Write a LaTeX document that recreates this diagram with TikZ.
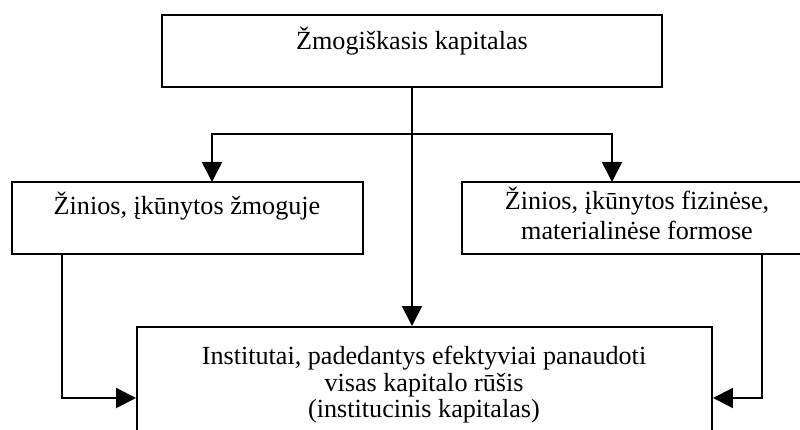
\documentclass[tikz,border=0pt]{standalone}
\usepackage{fontspec}
\setmainfont{Liberation Serif}
\usetikzlibrary{arrows.meta}

\tikzset{
  box/.style={draw, line width=1.4pt, inner sep=0pt},
  lbl/.style={align=center, inner sep=0pt, anchor=base},
  arr/.style={line width=1.4pt, -{Triangle[length=0.5cm, width=0.5cm]}},
}

\begin{document}
\begin{tikzpicture}[font=\fontsize{18.6}{22}\selectfont]
        \useasboundingbox (0,0) rectangle (20,10.75);
        \clip (0,0) rectangle (20,10.75);

        \node[box, minimum width=12.5cm, minimum height=1.8cm] (cap) at (10.3,9.475) {};
        \node[box, minimum width=8.775cm, minimum height=1.8cm] (tacit) at (4.6875,5.3) {};
        \node[box, minimum width=8.75cm, minimum height=1.8cm] (embod) at (15.925,5.3) {};
        \node[box, minimum width=14.375cm, minimum height=2.775cm] (inst) at (10.6125,1.1875) {};

        \node[lbl] (captxt) at (10.3,9.5) {Žmogiškasis kapitalas};
        \node[lbl] (tacittxt) at (4.675,5.375) {Žinios, įkūnytos žmoguje};
        \node[lbl, font=\fontsize{18.6}{22}\selectfont] (embodtxt) at (15.925,4.75)
            {Žinios, įkūnytos fizinėse,\\ materialinėse formose};
        \node[lbl, font=\fontsize{18.6}{19.2}\selectfont] (insttxt) at (10.6,0.3)
            {Institutai, padedantys efektyviai panaudoti\\ visas kapitalo rūšis\\ (institucinis kapitalas)};

        \coordinate (split) at (10.3,7.4);
        \coordinate (tacitin) at (5.3,6.2);
        \coordinate (embodin) at (15.3,6.2);
        \coordinate (tacitout) at (1.55,4.4);
        \coordinate (embodout) at (19.05,4.4);

        \draw[arr] (cap) -- (cap |- inst.north);
        \draw[arr] (split) -| (tacitin);
        \draw[arr] (split) -| (embodin);
        \draw[arr] (tacitout) |- (inst.west |- 0,0.8);
        \draw[arr] (embodout) |- (inst.east |- 0,0.8);
    \end{tikzpicture}
\end{document}
